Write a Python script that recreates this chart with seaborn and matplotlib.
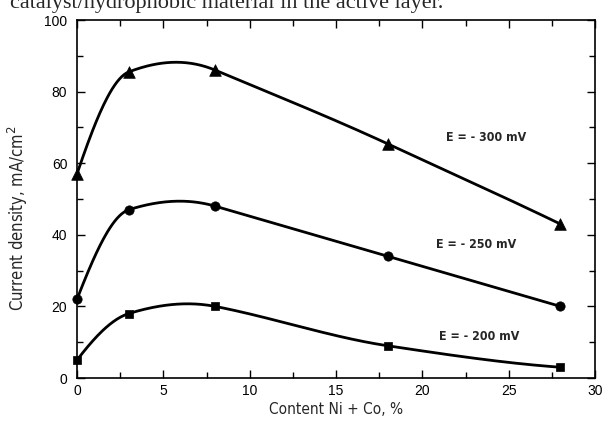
import numpy as np
import pandas as pd
import matplotlib
matplotlib.use("Agg")
import matplotlib.pyplot as plt
import seaborn as sns
from matplotlib import font_manager as fm
from matplotlib.ticker import MultipleLocator

# ---- data ----
content = [0, 3, 8, 18, 28]
j_300 = [57, 85.5, 86, 65.4, 43]
j_250 = [22, 47, 48, 34, 20]
j_200 = [5, 18, 20, 9, 3]
series_names = ["E = - 300 mV", "E = - 250 mV", "E = - 200 mV"]
label_x = [23.7, 23.1, 23.3]
label_y = [67.3, 37.4, 11.5]
x_ticks = [0, 5, 10, 15, 20, 25, 30]
y_ticks = [0, 20, 40, 60, 80, 100]
x_label = "Content Ni + Co, %"
y_label = "Current density, mA/cm$^{2}$"
caption = "catalyst/hydrophobic material in the active layer."

sns.set_style("ticks")
plt.rcParams["font.family"] = ["Liberation Sans", "DejaVu Sans"]
plt.rcParams["mathtext.fontset"] = "custom"

names = {f.name for f in fm.fontManager.ttflist}
if "Liberation Sans Narrow" in names:
    narrow = dict(family="Liberation Sans Narrow")
    nscale = 1.0
else:
    narrow = dict(family="DejaVu Sans", stretch="condensed")
    nscale = 0.85
plt.rcParams["mathtext.rm"] = narrow["family"]


def akima_curve(x, y, n=400):
    """Smooth connecting curve (Akima spline) through the measured points."""
    x = np.asarray(x, float)
    y = np.asarray(y, float)
    k = len(x)
    m = np.diff(y) / np.diff(x)
    mm = np.empty(k + 3)
    mm[2:k + 1] = m
    mm[1] = 2 * mm[2] - mm[3]
    mm[0] = 2 * mm[1] - mm[2]
    mm[k + 1] = 2 * mm[k] - mm[k - 1]
    mm[k + 2] = 2 * mm[k + 1] - mm[k]
    t = np.empty(k)
    for i in range(k):
        m1, m2, m3, m4 = mm[i], mm[i + 1], mm[i + 2], mm[i + 3]
        w1 = abs(m4 - m3)
        w2 = abs(m2 - m1)
        if w1 + w2 < 1e-12:
            t[i] = 0.5 * (m2 + m3)
        else:
            t[i] = (w1 * m2 + w2 * m3) / (w1 + w2)
    xs = np.linspace(x[0], x[-1], n)
    idx = np.clip(np.searchsorted(x, xs, side="right") - 1, 0, k - 2)
    h = x[idx + 1] - x[idx]
    s = (xs - x[idx]) / h
    h00 = 2 * s ** 3 - 3 * s ** 2 + 1
    h10 = s ** 3 - 2 * s ** 2 + s
    h01 = -2 * s ** 3 + 3 * s ** 2
    h11 = s ** 3 - s ** 2
    ys = h00 * y[idx] + h10 * h * t[idx] + h01 * y[idx + 1] + h11 * h * t[idx + 1]
    return xs, ys


all_series = [j_300, j_250, j_200]
frames = []
for name, vals in zip(series_names, all_series):
    xs, ys = akima_curve(content, vals)
    frames.append(pd.DataFrame({"x": xs, "y": ys, "series": name}))
curves = pd.concat(frames, ignore_index=True)
points = pd.DataFrame({
    "x": content * 3,
    "y": j_300 + j_250 + j_200,
    "series": [n for n in series_names for _ in content],
})

fig = plt.figure(figsize=(6.08, 4.29), dpi=100)
ax = fig.add_axes([77 / 608, 1 - 378 / 429, 518 / 608, 358 / 429])

sns.lineplot(data=curves, x="x", y="y", units="series", estimator=None,
             color="black", linewidth=2.0, ax=ax, legend=False, sort=False)

markers = ["^", "o", "s"]
msizes = [70, 45, 40]
for name, m, s in zip(series_names, markers, msizes):
    sub = points[points["series"] == name]
    sns.scatterplot(data=sub, x="x", y="y", marker=m, s=s, color="black",
                    edgecolor="black", linewidth=0.5, ax=ax, legend=False,
                    zorder=5)
for coll in ax.collections:
    coll.set_clip_on(False)

for name, lx, ly in zip(series_names, label_x, label_y):
    ax.text(lx, ly, name, ha="center", va="center", fontsize=10.5 * nscale,
            fontweight="bold", **narrow)

ax.set_xlim(0, 30)
ax.set_ylim(0, 100)
ax.set_xticks(x_ticks)
ax.set_yticks(y_ticks)
ax.xaxis.set_minor_locator(MultipleLocator(2.5))
ax.yaxis.set_minor_locator(MultipleLocator(10))
ax.tick_params(which="both", direction="in", top=True, right=True,
               width=1.0, colors="black", labelsize=10)
ax.tick_params(which="major", length=6)
ax.tick_params(which="minor", length=4)
ax.tick_params(axis="y", pad=7)
ax.tick_params(axis="x", pad=4)
for sp in ax.spines.values():
    sp.set_linewidth(1.2)
    sp.set_color("black")

ax.set_xlabel(x_label, fontsize=13 * nscale, labelpad=3, **narrow)
ax.set_ylabel(y_label, fontsize=14 * nscale, **narrow)
ax.yaxis.set_label_coords(-0.09, 0.445)

fig.text(10 / 608, 1 - 8 / 429, caption, family="Liberation Serif",
         fontsize=16, ha="left", va="baseline")

fig.savefig("out.png", dpi=100)
